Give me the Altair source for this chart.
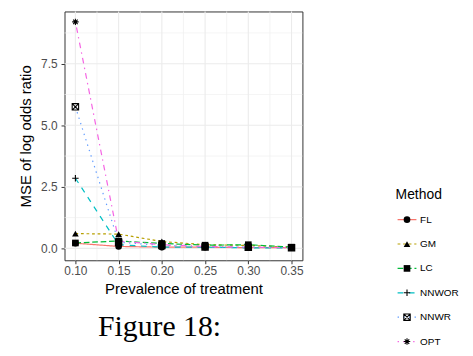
import altair as alt
import pandas as pd

# ---------------- data ----------------
prevalence = [0.10, 0.15, 0.20, 0.25, 0.30, 0.35]
methods = ["FL", "GM", "LC", "NNWOR", "NNWR", "OPT"]
mse_fl = [0.21, 0.08, 0.05, 0.05, 0.03, 0.03]
mse_gm = [0.60, 0.58, 0.28, 0.15, 0.12, 0.05]
mse_lc = [0.22, 0.30, 0.20, 0.13, 0.15, 0.05]
mse_nnwor = [2.85, 0.15, 0.05, 0.05, 0.02, 0.02]
mse_nnwr = [5.75, 0.25, 0.12, 0.06, 0.05, 0.03]
mse_opt = [9.20, 0.30, 0.15, 0.08, 0.05, 0.03]
x_ticks = [0.10, 0.15, 0.20, 0.25, 0.30, 0.35]
x_minor = [0.125, 0.175, 0.225, 0.275, 0.325]
y_ticks = [0.0, 2.5, 5.0, 7.5]
y_minor = [1.25, 3.75, 6.25, 8.75]
legend_rows = [1, 2, 3, 4, 5, 6]
legend_title = "Method"
caption = "Figure 18:"

colors = ["#F8766D", "#B79F00", "#00BA38", "#00BFC4", "#619CFF", "#F564E3"]
dashes = [[1, 0], [2.8, 2.8], [5.7, 2.8], [5.7, 5.7], [1.4, 4.3], [1.4, 4.3, 5.7, 4.3]]
shapes = [
    "circle",
    "triangle-up",
    "square",
    "M-1,0L1,0M0,-1L0,1",
    "M-1,-1L1,-1L1,1L-1,1ZM-1,-1L1,1M-1,1L1,-1",
    "M-1,0L1,0M0,-1L0,1M-0.7,-0.7L0.7,0.7M-0.7,0.7L0.7,-0.7",
]
filled_methods = ["FL", "GM", "LC"]

series = [mse_fl, mse_gm, mse_lc, mse_nnwor, mse_nnwr, mse_opt]
df = pd.DataFrame({
    "Prevalence": prevalence * len(methods),
    "MSE": [v for s in series for v in s],
    "Method": [m for m in methods for _ in prevalence],
})

FONT = "Liberation Sans"
xs = alt.Scale(domain=[0.0874, 0.3626], nice=False, zero=False)
ys = alt.Scale(domain=[-0.483, 9.622], nice=False, zero=False)
color_scale = alt.Scale(domain=methods, range=colors)
dash_scale = alt.Scale(domain=methods, range=dashes)
shape_scale = alt.Scale(domain=methods, range=shapes)

ax_x = alt.Axis(values=x_ticks, format=".2f", grid=False, domain=False,
                title="Prevalence of treatment", labelPadding=2, titlePadding=5)
ax_y = alt.Axis(values=y_ticks, format=".1f", grid=False, domain=False,
                title="MSE of log odds ratio", labelPadding=4, titlePadding=7)

X = lambda f: alt.X(f, scale=xs, axis=ax_x)
Y = lambda f: alt.Y(f, scale=ys, axis=ax_y)

gx_major = alt.Chart(pd.DataFrame({"v": x_ticks})).mark_rule(
    color="#EBEBEB", strokeWidth=1.1).encode(x=X("v:Q"))
gx_minor = alt.Chart(pd.DataFrame({"v": x_minor})).mark_rule(
    color="#EFEFEF", strokeWidth=0.7).encode(x=X("v:Q"))
gy_major = alt.Chart(pd.DataFrame({"v": y_ticks})).mark_rule(
    color="#EBEBEB", strokeWidth=1.1).encode(y=Y("v:Q"))
gy_minor = alt.Chart(pd.DataFrame({"v": y_minor})).mark_rule(
    color="#EFEFEF", strokeWidth=0.7).encode(y=Y("v:Q"))

lines = alt.Chart(df).mark_line(strokeWidth=1.2).encode(
    x=X("Prevalence:Q"),
    y=Y("MSE:Q"),
    color=alt.Color("Method:N", scale=color_scale, legend=None),
    strokeDash=alt.StrokeDash("Method:N", scale=dash_scale, legend=None),
    detail="Method:N",
)

pts_filled = alt.Chart(df).transform_filter(
    alt.FieldOneOfPredicate(field="Method", oneOf=filled_methods)
).mark_point(filled=True, color="black", opacity=1, size=45).encode(
    x=X("Prevalence:Q"),
    y=Y("MSE:Q"),
    shape=alt.Shape("Method:N", scale=shape_scale, legend=None),
)
pts_open = alt.Chart(df).transform_filter(
    ~alt.FieldOneOfPredicate(field="Method", oneOf=filled_methods)
).mark_point(filled=False, color="black", opacity=1, size=42, strokeWidth=1.1).encode(
    x=X("Prevalence:Q"),
    y=Y("MSE:Q"),
    shape=alt.Shape("Method:N", scale=shape_scale, legend=None),
)

main = alt.layer(gx_minor, gy_minor, gx_major, gy_major, lines, pts_filled, pts_open).properties(
    width=240, height=251,
    view=alt.ViewBackground(stroke="#333333", strokeWidth=1),
    title=alt.TitleParams(caption, orient="bottom", anchor="start", frame="bounds",
                          font="Liberation Serif", fontSize=30, fontWeight="normal",
                          color="black", offset=16, dx=80),
)

# ---------------- legend ----------------
leg_df = pd.DataFrame({"Method": methods, "row": legend_rows})
ly = alt.Scale(domain=[-7.537, 6.122], reverse=True, nice=False, zero=False)
LY = lambda f: alt.Y(f, scale=ly, axis=None)

leg_lines = alt.Chart(leg_df).mark_rule(strokeWidth=1.2).encode(
    x=alt.value(4), x2=alt.value(23), y=LY("row:Q"),
    color=alt.Color("Method:N", scale=color_scale, legend=None),
    strokeDash=alt.StrokeDash("Method:N", scale=dash_scale, legend=None),
)
leg_pf = alt.Chart(leg_df).transform_filter(
    alt.FieldOneOfPredicate(field="Method", oneOf=filled_methods)
).mark_point(filled=True, color="black", opacity=1, size=45).encode(
    x=alt.value(13.5), y=LY("row:Q"),
    shape=alt.Shape("Method:N", scale=shape_scale, legend=None),
)
leg_po = alt.Chart(leg_df).transform_filter(
    ~alt.FieldOneOfPredicate(field="Method", oneOf=filled_methods)
).mark_point(filled=False, color="black", opacity=1, size=42, strokeWidth=1.1).encode(
    x=alt.value(13.5), y=LY("row:Q"),
    shape=alt.Shape("Method:N", scale=shape_scale, legend=None),
)
leg_text = alt.Chart(leg_df).mark_text(
    align="left", baseline="middle", font=FONT, fontSize=10, color="black"
).encode(x=alt.value(26.7), y=LY("row:Q"), text="Method:N")
leg_title = alt.Chart(pd.DataFrame({"t": [legend_title], "row": [0]})).mark_text(
    align="left", baseline="middle", font=FONT, fontSize=14, color="black"
).encode(x=alt.value(2), y=LY("row:Q"), text="t:N")

legend = alt.layer(leg_lines, leg_pf, leg_po, leg_text, leg_title).properties(
    width=72, height=336,
    view=alt.ViewBackground(strokeWidth=0, stroke="transparent"),
)

chart = alt.hconcat(main, legend, spacing=90).configure(
    padding={"left": 10, "top": 0, "right": 0, "bottom": 0},
    font=FONT,
).configure_view(
    stroke="#333333", strokeWidth=1
).configure_axis(
    labelFont=FONT, labelFontSize=12, labelColor="#4D4D4D",
    tickColor="#333333", tickSize=3.5, tickWidth=1,
    titleFont=FONT, titleFontSize=15, titleFontWeight="normal", titleColor="black",
)

chart.save("out.html", embed_options={"renderer": "svg", "actions": False})
